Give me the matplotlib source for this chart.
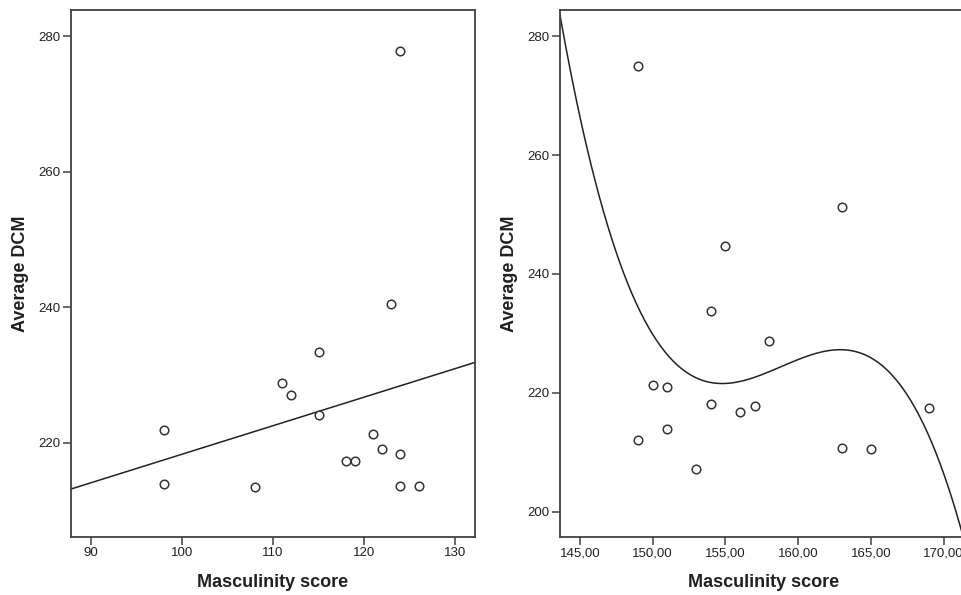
import numpy as np
import matplotlib
matplotlib.use("Agg")
import matplotlib.pyplot as plt
from matplotlib.ticker import FuncFormatter

plt.rcParams['font.family'] = ['Liberation Sans', 'DejaVu Sans']

# left panel: masculinity score vs average DCM (linear fit)
masc_a = [98, 98, 108, 111, 112, 115, 115, 118, 119, 121, 122, 124, 124, 126, 123, 124]
dcm_a  = [221.9, 213.9, 213.4, 228.8, 227.0, 233.4, 224.1, 217.3, 217.3, 221.3, 219.0, 218.3, 213.6, 213.6, 240.5, 277.8]

# right panel: masculinity score vs average DCM (cubic fit)
masc_b = [149, 155, 163, 154, 158, 150, 151, 154, 157, 156, 169, 151, 149, 153, 163, 165]
dcm_b  = [275.0, 244.7, 251.2, 233.7, 228.8, 221.3, 221.0, 218.1, 217.8, 216.7, 217.5, 213.9, 212.0, 207.2, 210.7, 210.5]

frame_col = '#404040'
txt_col = '#202020'

fig = plt.figure(figsize=(9.62, 5.95), dpi=100)
ax1 = fig.add_axes([0.0738, 0.098, 0.42, 0.8852])
ax2 = fig.add_axes([0.5821, 0.098, 0.4229, 0.8852])


def style(ax):
    for s in ax.spines.values():
        s.set_color(frame_col)
        s.set_linewidth(1.3)
    ax.tick_params(direction='out', length=5.5, width=1.1, color=frame_col,
                   labelsize=9.5, labelcolor=txt_col, top=False, right=False, pad=2)
    ax.set_xlabel('Masculinity score', fontsize=13, fontweight='bold', color=txt_col, labelpad=10.5)
    ax.set_ylabel('Average DCM', fontsize=13, fontweight='bold', color=txt_col, labelpad=7)


# left
ax1.scatter(masc_a, dcm_a, s=38, facecolors='white', edgecolors='#333333', linewidths=1.1, zorder=3)
xmin, xmax = 87.8, 132.2
c1 = np.polyfit(masc_a, dcm_a, 1)
xx = np.linspace(xmin, xmax, 50)
ax1.plot(xx, np.polyval(c1, xx), color='#222222', lw=1.1)
ax1.set_xlim(xmin, xmax)
ax1.set_ylim(206.1, 283.9)
ax1.set_xticks([90, 100, 110, 120, 130])
ax1.set_yticks([220, 240, 260, 280])
style(ax1)

# right
ax2.scatter(masc_b, dcm_b, s=38, facecolors='white', edgecolors='#333333', linewidths=1.1, zorder=3)
xmin2, xmax2 = 143.62, 171.6
c3 = np.polyfit(masc_b, dcm_b, 3)
xx = np.linspace(xmin2, xmax2, 300)
ax2.plot(xx, np.polyval(c3, xx), color='#222222', lw=1.1)
ax2.set_xlim(xmin2, xmax2)
ax2.set_ylim(195.8, 284.4)
ax2.set_xticks([145, 150, 155, 160, 165, 170])
ax2.set_yticks([200, 220, 240, 260, 280])
ax2.xaxis.set_major_formatter(FuncFormatter(lambda v, p: f'{v:.2f}'.replace('.', ',')))
style(ax2)

fig.savefig('out.png', dpi=100)
